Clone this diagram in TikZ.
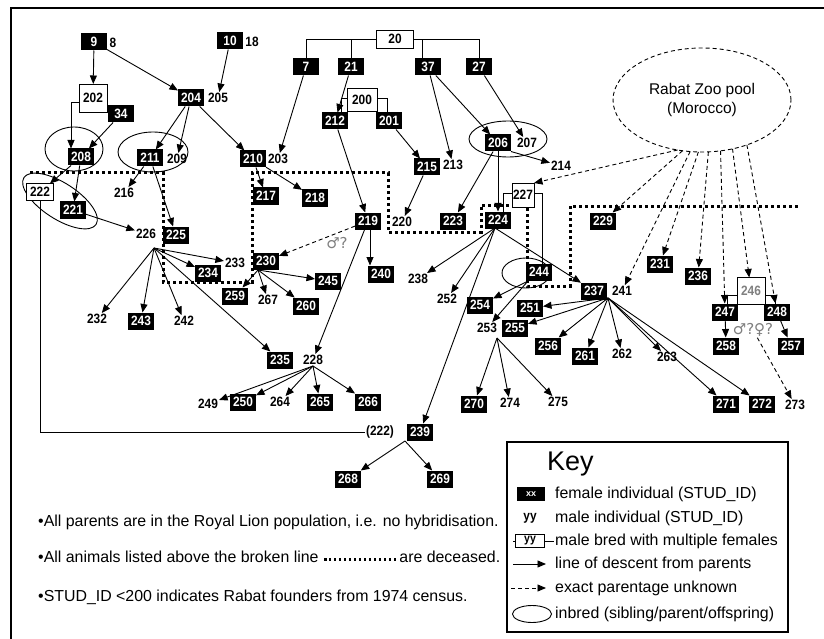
\documentclass[tikz,border=0pt]{standalone}
\usepackage{fontspec}
\setmainfont{Liberation Sans}
\newfontfamily\symfont{DejaVu Sans}
\newfontfamily\numfont[FakeStretch=0.88]{Liberation Sans}
\usetikzlibrary{arrows.meta,shapes.geometric,calc}
\begin{document}
\begin{tikzpicture}[x=1pt,y=-1pt,
  num/.style={font=\numfont\fontsize{13.5}{13.5}\selectfont\bfseries},
  fb/.style={num,fill=black,text=white,minimum width=26pt,minimum height=17pt,inner sep=0pt,outer sep=0pt},
  mt/.style={num,inner sep=1pt},
  wb/.style={num,draw,fill=white,inner sep=0pt,outer sep=0pt,line width=0.8pt},
  arr/.style={line width=0.9pt,-{Triangle[length=8.5pt,width=7pt]}},
  darr/.style={arr,dash pattern=on 4pt off 3pt},
  inb/.style={draw,ellipse,line width=0.9pt,inner sep=0pt,outer sep=0pt},
  ln/.style={line width=0.8pt},
  broken/.style={line width=3pt,dash pattern=on 3pt off 3pt},
  note/.style={anchor=west,inner sep=0pt,font=\fontsize{15.9}{17}\selectfont},
  keytxt/.style={anchor=west,inner sep=0pt,font=\fontsize{15.9}{17}\selectfont},
]
\useasboundingbox (0,0) rectangle (824,639);
\fill[white] (0,0) rectangle (824,639);
\draw[line width=1.2pt] (11,639) -- (11,8) -- (824,8);

% broken line (deceased boundary)
\draw[broken] (30,173) -- (163,173) -- (163,282) -- (252,282) -- (252,173) -- (388,173)
  -- (388,232) -- (481,232) -- (481,205) -- (527,205) -- (527,286) -- (570,286)
  -- (570,206) -- (800,206);

% inbred ellipses
\node[inb,minimum width=58pt,minimum height=44pt] (e208) at (74,149) {};
\node[inb,minimum width=70pt,minimum height=40pt] (e211) at (153,152) {};
\node[inb,minimum width=78pt,minimum height=36pt] (e206) at (508,139) {};
\node[inb,minimum width=48pt,minimum height=30pt] (e244) at (526,273) {};
\node[inb,minimum width=86pt,minimum height=36pt,rotate=-33] (e222) at (60,201) {};

% Rabat pool
\node[draw,ellipse,dash pattern=on 4pt off 3pt,line width=0.9pt,minimum width=178pt,minimum height=104pt,inner sep=0pt,outer sep=0pt,align=center,font=\fontsize{15.5}{19}\selectfont] (pool) at (702,100) {Rabat Zoo pool\\(Morocco)};

% white (male multiple) boxes
\node[wb,minimum width=37pt,minimum height=18pt] (n20) at (395,39) {20};
\node[wb,minimum width=28pt,minimum height=28pt] (n202) at (93,98) {202};
\node[wb,minimum width=30pt,minimum height=23pt] (n200) at (362,100) {200};
\node[wb,minimum width=22pt,minimum height=24pt] (n227) at (523,195) {227};
\node[wb,minimum width=27pt,minimum height=17pt] (n222) at (40,192) {222};
\node[wb,minimum width=28pt,minimum height=27pt,text=gray] (n246) at (751,291) {246};

% female boxes
\node[fb] (n9) at (94,42) {9};
\node[fb] (n10) at (230,41) {10};
\node[fb] (n34) at (121,114) {34};
\node[fb] (n204) at (191,98) {204};
\node[fb] (n208) at (81,157) {208};
\node[fb] (n211) at (150,158) {211};
\node[fb] (n210) at (253,159) {210};
\node[fb] (n221) at (73,210) {221};
\node[fb] (n217) at (266,196) {217};
\node[fb] (n218) at (315,198) {218};
\node[fb] (n219) at (368,221) {219};
\node[fb] (n240) at (381,274) {240};
\node[fb] (n230) at (266,261) {230};
\node[fb] (n234) at (208,273) {234};
\node[fb] (n259) at (235,296) {259};
\node[fb] (n260) at (306,306) {260};
\node[fb] (n245) at (328,281) {245};
\node[fb] (n225) at (176,235) {225};
\node[fb] (n243) at (141,321) {243};
\node[fb] (n235) at (280,360) {235};
\node[fb] (n250) at (243,402) {250};
\node[fb] (n265) at (320,402) {265};
\node[fb] (n266) at (368,402) {266};
\node[fb] (n254) at (480,305) {254};
\node[fb] (n223) at (453,221) {223};
\node[fb] (n224) at (498,220) {224};
\node[fb] (n244) at (539,272) {244};
\node[fb] (n229) at (603,221) {229};
\node[fb] (n237) at (594,291) {237};
\node[fb] (n251) at (530,308) {251};
\node[fb] (n255) at (515,328) {255};
\node[fb] (n256) at (548,346) {256};
\node[fb] (n261) at (585,356) {261};
\node[fb] (n270) at (474,404) {270};
\node[fb] (n271) at (726,404) {271};
\node[fb] (n272) at (762,404) {272};
\node[fb] (n258) at (726,346) {258};
\node[fb] (n257) at (791,346) {257};
\node[fb] (n247) at (725,312) {247};
\node[fb] (n248) at (777,312) {248};
\node[fb] (n231) at (660,264) {231};
\node[fb] (n236) at (698,276) {236};
\node[fb] (n206) at (498,143) {206};
\node[fb] (n215) at (427,167) {215};
\node[fb] (n212) at (335,121) {212};
\node[fb] (n201) at (389,121) {201};
\node[fb] (n7) at (306,67) {7};
\node[fb] (n21) at (351,67) {21};
\node[fb] (n37) at (428,67) {37};
\node[fb] (n27) at (479,67) {27};
\node[fb] (n239) at (420,432) {239};
\node[fb] (n268) at (348,479) {268};
\node[fb] (n269) at (440,479) {269};

% male labels
\node[mt] (n8) at (113,43) {8};
\node[mt] (n18) at (252,42) {18};
\node[mt] (n205) at (218,98) {205};
\node[mt] (n209) at (177,159) {209};
\node[mt] (n203) at (278,159) {203};
\node[mt] (n216) at (124,193) {216};
\node[mt] (n226) at (146,234) {226};
\node[mt] (n233) at (235,263) {233};
\node[mt] (n220) at (402,222) {220};
\node[mt] (n267) at (268,300) {267};
\node[mt] (n232) at (97,319) {232};
\node[mt] (n242) at (184,321) {242};
\node[mt] (n228) at (313,360) {228};
\node[mt] (n249) at (208,404) {249};
\node[mt] (n264) at (280,402) {264};
\node[mt] (n238) at (418,279) {238};
\node[mt] (n252) at (447,299) {252};
\node[mt] (n253) at (487,328) {253};
\node[mt] (n262) at (622,354) {262};
\node[mt] (n263) at (667,357) {263};
\node[mt] (n274) at (510,403) {274};
\node[mt] (n275) at (558,402) {275};
\node[mt] (n273) at (795,405) {273};
\node[mt] (n213) at (453,165) {213};
\node[mt] (n207) at (527,143) {207};
\node[mt] (n214) at (561,166) {214};
\node[mt] (n241) at (622,291) {241};
\node[mt] (l222) at (380,432) {(222)};

\node[text=gray,inner sep=1pt,font=\symfont\fontsize{15}{15}\selectfont] (q1) at (337,243) {♂?};
\node[text=gray,inner sep=1pt,font=\symfont\fontsize{15}{15}\selectfont] (q2) at (753,330) {♂?♀?};

% hubs
\coordinate (h226) at (154,248);
\coordinate (h230) at (258,270);
\coordinate (h228) at (313,366);
\coordinate (h224) at (495,228);
\coordinate (h237) at (608,298);
\coordinate (h253) at (497,338);
\coordinate (h239) at (405,441);
\coordinate (h244) at (528,281);

% bracket lines of multiple-female males
\draw[ln] (n7.north) |- (n20.west);
\draw[ln] (n21.north) |- (n20.west);
\draw[ln] ($(n37.north)+(-6,0)$) |- (n20.east);
\draw[ln] (n27.north) |- (n20.east);
\draw[ln] ($(n200.west)+(0,-2)$) -| ($(n212.north)+(6,0)$);
\draw[ln] ($(n200.east)+(0,-2)$) -| ($(n201.north)+(-2,0)$);
\draw[ln] ($(n227.west)+(0,-2)$) -| ($(n224.north)+(5,0)$);
\draw[ln] ($(n227.east)+(0,-2)$) -| ($(n244.north)+(3,0)$);
\draw[ln] ($(n246.west)+(0,4)$) -| ($(n247.north)+(2,0)$);
\draw[ln] ($(n246.east)+(0,4)$) -| ($(n248.north)+(-2,0)$);
\draw[ln] (n222.south) |- (l222.west);

% descent arrows
\draw[arr] (n9) -- (n202);
\draw[arr] (n9) -- (n204);
\draw[arr] (n10) -- (n205);
\draw[arr] ($(n202.west)+(0,4)$) -| ($(n208.north west)+(3,0)$);
\draw[arr] (n34) -- (n208);
\draw[arr] (n204) -- (n211);
\draw[arr] (n204) -- (n209);
\draw[arr] (n204) -- (n210);
\draw[arr] (n7) -- (n203);
\draw[arr] (n21) -- (n212);
\draw[arr] (n212) -- (n219);
\draw[arr] (n201) -- (n215);
\draw[arr] (n37) -- (n213);
\draw[arr] (n37) -- (n206);
\draw[arr] (n27) -- (n207);
\draw[arr] (n215) -- (n220);
\draw[arr] (n206.south east) -- (n214);
\draw[arr] (n206) -- (n223);
\draw[arr] (n206) -- (n224);
\draw[arr] (n211) -- (n216);
\draw[arr] (n211) -- (n225);
\draw[arr] (n208) -- (n222);
\draw[arr] (n208) -- (n221);
\draw[arr] (n221) -- (n226);
\draw[arr] (n210) -- (n217);
\draw[arr] (n210) -- (n218);
\draw[arr] ($(n219.south)+(2,0)$) -- ($(n240.north west)+(2,0)$);
\draw[arr] (n219) -- (n228);
\foreach \t in {233,234,232,243,242,235} \draw[arr] (h226) -- (n\t);
\foreach \t in {259,267,260,245} \draw[arr] (h230) -- (n\t);
\foreach \t in {249,250,264,265,266} \draw[arr] (h228) -- (n\t);
\foreach \t in {238,252,239,237} \draw[arr] (h224) -- (n\t);
\foreach \t in {254,253} \draw[arr] (h244) -- (n\t);
\foreach \t in {251,255,256,261,262,263,271,272} \draw[arr] (h237) -- (n\t);
\foreach \t in {270,274,275} \draw[arr] (h253) -- (n\t);
\foreach \t in {268,269} \draw[arr] (h239) -- (n\t);
\draw[arr] (n247) -- (n258);
\draw[arr] (n248) -- (n257);

% unknown parentage
\draw[darr] (n219) -- (n230);
\draw[darr] (q2) -- (n273);
\draw[darr] (pool.244) -- (n227.north east);
\draw[darr] (pool.249) -- (n229);
\draw[darr] (pool.257) -- (n241);
\draw[darr] (pool.266) -- (n231);
\draw[darr] (pool.277) -- (n236);
\draw[darr] (pool.290) -- (n247);
\draw[darr] (pool.302) -- (n246);
\draw[darr] (pool.315) -- (n248);

% notes
\node[note] (t1) at (38,522) {•All parents are in the Royal Lion population, i.e. no hybridisation.};
\node[note] (t2) at (38,557) {\hbox to 462pt{•All animals listed above the broken line\hskip 4pt\xleaders\hbox to 4.8pt{\hss\raisebox{2pt}{\rule{2.6pt}{2.6pt}}\hss}\hfill\hskip 2pt are deceased.}};
\node[note] (t3) at (38,597) {•STUD\_ID <200 indicates Rabat founders from 1974 census.};

% key
\draw[line width=2pt] (507,442) rectangle (788,632);
\node[anchor=west,inner sep=0pt,font=\fontsize{27}{29}\selectfont] (key) at (547,464) {Key};
\node[fill=black,text=white,minimum width=28pt,minimum height=14pt,inner sep=0pt,font=\fontsize{9}{9}\selectfont\bfseries] (kxx) at (531,494) {xx};
\node[num,inner sep=0pt] (kyy) at (530,518) {yy};
\node[wb,minimum width=29pt,minimum height=13pt,font=\numfont\fontsize{12}{12}\selectfont\bfseries] (kwb) at (530,541) {yy};
\draw[ln] (kwb.west) -- ++(-3,0);
\draw[ln] (kwb.east) -- ++(9,0);
\coordinate (ka1) at (513,564); \coordinate (ka2) at (546,564);
\draw[arr] (ka1) -- (ka2);
\coordinate (kd1) at (511,588); \coordinate (kd2) at (546,588);
\draw[darr] (kd1) -- (kd2);
\node[inb,minimum width=39pt,minimum height=17pt] (kel) at (532,614) {};
\node[keytxt] at (555,494) {female individual (STUD\_ID)};
\node[keytxt] at (555,518) {male individual (STUD\_ID)};
\node[keytxt] at (555,541) {male bred with multiple females};
\node[keytxt] at (555,564) {line of descent from parents};
\node[keytxt] at (555,588) {exact parentage unknown};
\node[keytxt] at (555,614) {inbred (sibling/parent/offspring)};
\end{tikzpicture}
\end{document}
